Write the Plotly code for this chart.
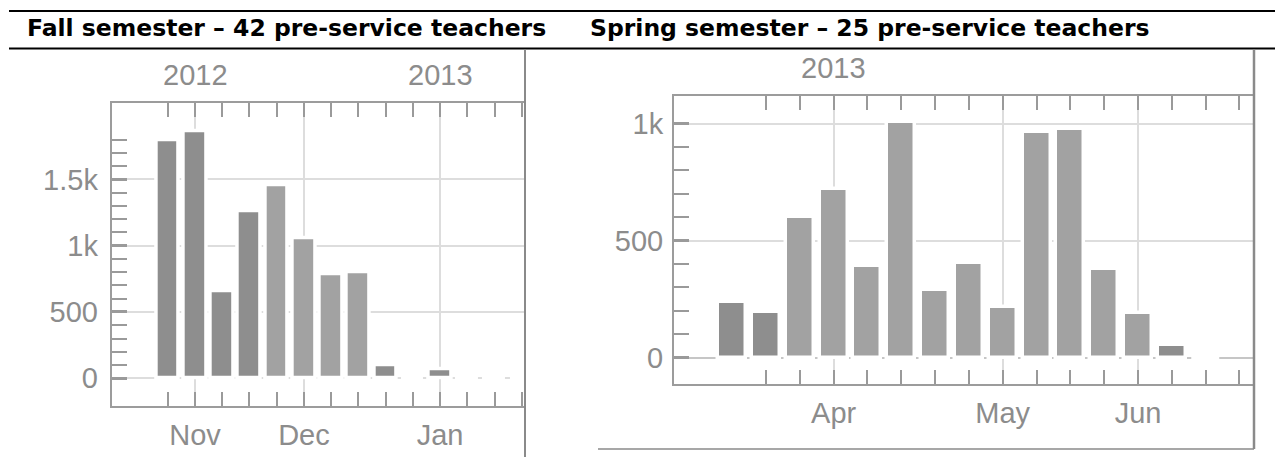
import plotly.graph_objects as go

# ---------------- data ----------------
fall_weeks = ["2012-10-25", "2012-11-01", "2012-11-08", "2012-11-15", "2012-11-22",
              "2012-11-29", "2012-12-06", "2012-12-13", "2012-12-20", "2012-12-27",
              "2013-01-03", "2013-01-10", "2013-01-17", "2013-01-24"]
fall_views = [1793, 1865, 659, 1257, 1453, 1056, 787, 802, 100, 0, 66, 0, 0, 0]
fall_shade = ["d", "d", "d", "d", "l", "l", "l", "l", "d", "d", "d", "d", "d", "d"]
fall_month_weeks = ["2012-11-01", "2012-11-29", "2013-01-03"]
fall_month_labels = ["Nov", "Dec", "Jan"]
fall_year_weeks = ["2012-11-01", "2013-01-03"]
fall_year_labels = ["2012", "2013"]
fall_y_ticks = [0, 500, 1000, 1500]
fall_y_labels = ["0", "500", "1k", "1.5k"]

spring_weeks = ["2013-03-11", "2013-03-18", "2013-03-25", "2013-04-01", "2013-04-08",
                "2013-04-15", "2013-04-22", "2013-04-29", "2013-05-06", "2013-05-13",
                "2013-05-20", "2013-05-27", "2013-06-03", "2013-06-10", "2013-06-17"]
spring_views = [239, 197, 600, 719, 393, 1009, 289, 403, 218, 966, 977, 379, 192, 53, 0]
spring_shade = ["d", "d", "l", "l", "l", "l", "l", "l", "l", "l", "l", "l", "l", "d", "d"]
spring_month_weeks = ["2013-04-01", "2013-05-06", "2013-06-03"]
spring_month_labels = ["Apr", "May", "Jun"]
spring_year_weeks = ["2013-04-01"]
spring_year_labels = ["2013"]
spring_y_ticks = [0, 500, 1000]
spring_y_labels = ["0", "500", "1k"]

titles = ["Fall semester \u2013 42 pre-service teachers",
          "Spring semester \u2013 25 pre-service teachers"]

# ---------------- styling ----------------
W, H = 1280, 457
def fx(p):
    return p / W
def fy(p):
    return 1 - p / H

DARK, LIGHT = "#8e8e8e", "#a2a2a2"
FRAME = "#9c9c9c"
TICK = "#9a9a9a"
GRID = "#dddddd"
LABEL = "#8c8c8c"
TICKFONT = dict(family="Liberation Sans, Arial, sans-serif", size=29, color=LABEL)

fig = go.Figure()

panels = [
    dict(weeks=fall_weeks, views=fall_views, shade=fall_shade,
         mw=fall_month_weeks, ml=fall_month_labels, yw=fall_year_weeks, yl=fall_year_labels,
         yt=fall_y_ticks, ytl=fall_y_labels, minor_y=list(range(0, 1900, 100)),
         minor_x_start=0, xr=[-2.06, 13.12], yr=[-209, 2074],
         xdom=[fx(111.7), fx(525)], ydom=[fy(406), fy(103.3)], width=0.835,
         year_y=75, zero=GRID, ystand=6),
    dict(weeks=spring_weeks, views=spring_views, shade=spring_shade,
         mw=spring_month_weeks, ml=spring_month_labels, yw=spring_year_weeks, yl=spring_year_labels,
         yt=spring_y_ticks, ytl=spring_y_labels, minor_y=list(range(0, 1100, 100)),
         minor_x_start=1, xr=[-1.72, 15.43], yr=[-114, 1118],
         xdom=[fx(674), fx(1254)], ydom=[fy(384.3), fy(96)], width=0.826,
         year_y=68.3, zero="#c6c6c6", ystand=3),
]

annotations = []
for i, p in enumerate(panels):
    n = "" if i == 0 else str(i + 1)
    idx = list(range(len(p["weeks"])))
    colors = [DARK if s == "d" else LIGHT for s in p["shade"]]
    fig.add_trace(go.Bar(x=idx, y=p["views"], width=p["width"],
                         marker=dict(color=colors, line=dict(color="white", width=3.5)),
                         xaxis="x" + n, yaxis="y" + n, hoverinfo="skip"))
    month_pos = [p["weeks"].index(w) for w in p["mw"]]
    minor_x = list(range(p["minor_x_start"], len(p["weeks"]) + p["minor_x_start"]))
    fig.layout["xaxis" + n] = dict(
        domain=p["xdom"], range=p["xr"], anchor="y" + n,
        showline=True, linecolor=FRAME, linewidth=2, mirror="ticks",
        tickmode="array", tickvals=month_pos, ticktext=p["ml"], ticks="",
        showgrid=True, gridcolor=GRID, gridwidth=2, zeroline=False,
        tickfont=TICKFONT, ticklabelstandoff=2,
        minor=dict(tickmode="array", tickvals=minor_x, ticks="inside", ticklen=14,
                   tickwidth=2, tickcolor=TICK, showgrid=False),
    )
    fig.layout["yaxis" + n] = dict(
        domain=p["ydom"], range=p["yr"], anchor="x" + n,
        showline=True, linecolor=FRAME, linewidth=2, mirror=False,
        tickmode="array", tickvals=p["yt"], ticktext=p["ytl"],
        ticks="inside", ticklen=15, tickwidth=2.5, tickcolor=TICK,
        showgrid=True, gridcolor=GRID, gridwidth=2,
        zeroline=True, zerolinecolor=p["zero"], zerolinewidth=2,
        tickfont=TICKFONT, ticklabelstandoff=p["ystand"],
        minor=dict(tickmode="array", tickvals=p["minor_y"], ticks="inside", ticklen=15,
                   tickwidth=1.6, tickcolor=TICK, showgrid=False),
    )
    for w, lab in zip(p["yw"], p["yl"]):
        annotations.append(dict(x=p["weeks"].index(w), xref="x" + n, y=fy(p["year_y"]),
                                yref="paper", text=lab, showarrow=False, xanchor="center",
                                yanchor="middle", font=TICKFONT))

HEADFONT = dict(family="DejaVu Sans, Verdana, sans-serif", size=23.5, color="black")
annotations.append(dict(x=fx(25), y=fy(28.5), xref="paper", yref="paper", text="<b>" + titles[0] + "</b>",
                        showarrow=False, xanchor="left", yanchor="middle", font=HEADFONT))
annotations.append(dict(x=fx(588), y=fy(28.5), xref="paper", yref="paper", text="<b>" + titles[1] + "</b>",
                        showarrow=False, xanchor="left", yanchor="middle", font=HEADFONT))

shapes = [
    dict(type="line", xref="paper", yref="paper", x0=fx(9), x1=fx(1275), y0=fy(11), y1=fy(11),
         line=dict(color="black", width=2)),
    dict(type="line", xref="paper", yref="paper", x0=fx(9), x1=fx(1275), y0=fy(48.5), y1=fy(48.5),
         line=dict(color="black", width=2)),
    dict(type="line", xref="paper", yref="paper", x0=fx(525), x1=fx(525), y0=fy(49.5), y1=fy(457),
         line=dict(color="#8a8a8a", width=2)),
    dict(type="line", xref="paper", yref="paper", x0=fx(1254), x1=fx(1254), y0=fy(49.5), y1=fy(449),
         line=dict(color="#8a8a8a", width=2.5)),
    dict(type="line", xref="paper", yref="paper", x0=fx(598), x1=fx(1254), y0=fy(449), y1=fy(449),
         line=dict(color="#8a8a8a", width=1.5)),
]

fig.update_layout(width=W, height=H, margin=dict(l=0, r=0, t=0, b=0),
                  paper_bgcolor="white", plot_bgcolor="white", showlegend=False,
                  bargap=0, annotations=annotations, shapes=shapes)

fig.write_html("out.html", config={"displayModeBar": False},
               post_script="document.body.style.margin='0px';document.body.style.overflow='hidden';")
